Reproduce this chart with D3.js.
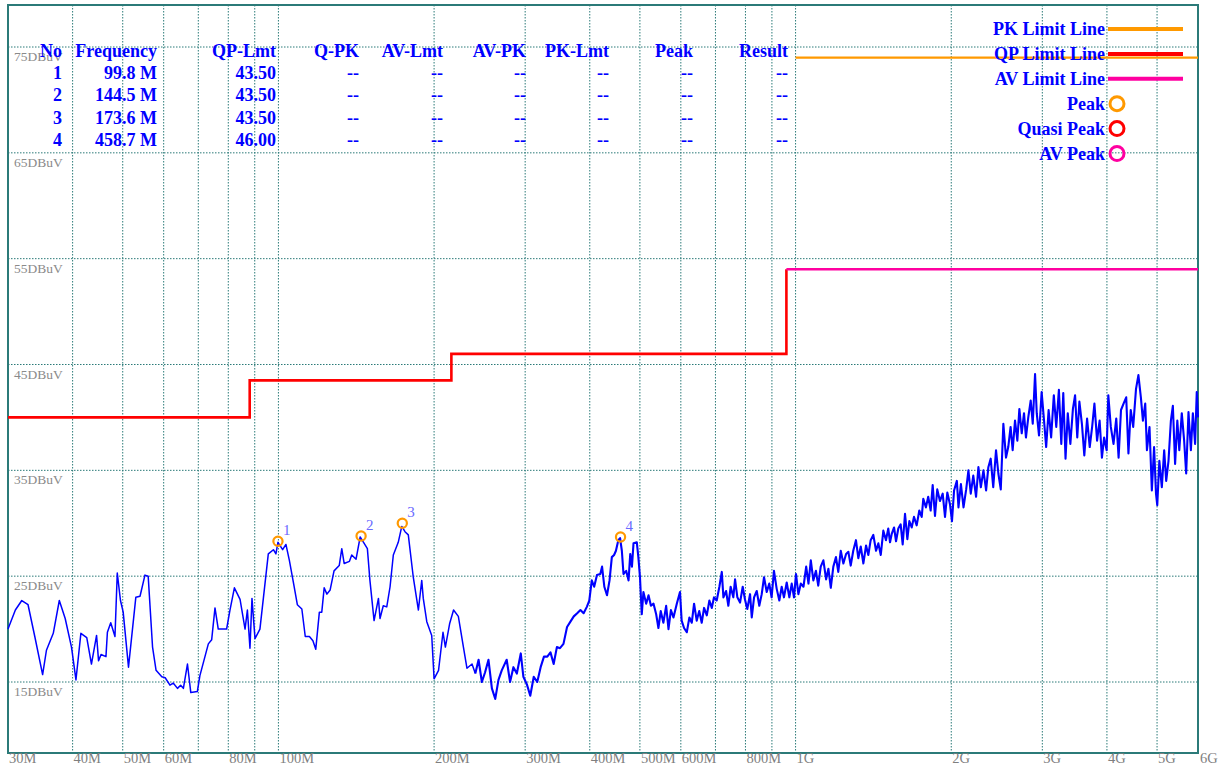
<!DOCTYPE html>
<html>
<head>
<meta charset="utf-8">
<script src="https://cdn.jsdelivr.net/npm/d3@7"></script>
<style>
  body { margin: 0; background: #fff; }
  svg { display: block; }
</style>
</head>
<body>
<svg id="chart"></svg>
<script>
// grid / ticks
const gridFreqs = [40, 50, 60, 70, 80, 90, 100, 200, 300, 400, 500, 600, 700, 800, 900, 1000, 2000, 3000, 4000, 5000];
const xTickVals = [30, 40, 50, 60, 80, 100, 200, 300, 400, 500, 600, 800, 1000, 2000, 3000, 4000, 5000, 6000];
const xTickText = ["30M", "40M", "50M", "60M", "80M", "100M", "200M", "300M", "400M", "500M", "600M", "800M", "1G", "2G", "3G", "4G", "5G", "6G"];
const yTickVals = [15, 25, 35, 45, 55, 65, 75];

// limit lines (MHz, dBuV)
const qpFreq = [30, 88, 88, 216, 216, 960, 960];
const qpLevel = [40, 40, 43.5, 43.5, 46, 46, 54];
const avFreq = [960, 6000];
const avLevel = [54, 54];
const pkFreq = [1000, 6000];
const pkLevel = [74, 74];

// marked peaks
const markNo = [1, 2, 3, 4];
const markFreq = [99.8, 144.5, 173.6, 458.7];
const markLevel = [28.3, 28.8, 30.0, 28.7];
const markQpLmt = [43.50, 43.50, 43.50, 46.00];

// table header
const tableCols = ["No", "Frequency", "QP-Lmt", "Q-PK", "AV-Lmt", "AV-PK", "PK-Lmt", "Peak", "Result"];

// legend
const legendLabels = ["PK Limit Line", "QP Limit Line", "AV Limit Line", "Peak", "Quasi Peak", "AV Peak"];
const legendKind = ["line", "line", "line", "circle", "circle", "circle"];

// measured trace [MHz, dBuV]
const trace = [
[30.0,20.0],[31.0,21.8],[31.9,22.7],[32.8,22.3],[33.8,19.3],[35.0,15.7],[35.6,18.0],[36.7,19.6],[37.7,22.7],[38.7,21.0],
[39.8,18.3],[40.6,15.2],[41.5,19.6],[42.6,19.2],[43.5,16.7],[44.5,19.4],[44.9,17.0],[45.4,17.6],[46.4,17.4],[46.7,19.7],
[47.4,20.6],[48.3,19.3],[48.8,25.3],[49.5,22.7],[50.1,21.6],[51.3,16.4],[53.0,23.0],[54.0,23.1],[55.2,25.1],[56.0,25.0],
[57.1,18.3],[58.0,16.1],[59.5,15.5],[60.4,15.4],[61.7,14.7],[62.6,14.9],[63.8,14.4],[64.7,14.7],[65.5,14.4],[66.7,16.7],
[67.7,14.0],[69.7,14.1],[70.5,15.6],[73.2,18.6],[74.3,19.0],[75.4,22.0],[76.5,20.0],[79.4,20.0],[80.6,21.8],[82.2,23.9],
[84.3,22.8],[86.2,20.0],[87.1,21.8],[88.1,18.2],[88.9,22.9],[90.1,19.1],[92.1,20.0],[95.6,27.1],[97.8,27.5],[98.9,27.1],
[99.8,28.2],[101.9,27.5],[103.4,28.0],[105.0,26.5],
[107.0,24.3],[108.8,22.3],[111.0,21.9],[112.7,19.3],[114.8,19.3],[116.6,18.9],[118.1,18.1],[120.0,21.6],[121.3,21.6],[122.6,23.9],
[124.1,23.3],[125.9,23.7],[128.1,25.5],[131.1,26.0],[132.6,27.6],[134.0,26.2],[137.2,26.4],[138.6,27.0],[141.3,26.6],[143.9,28.7],
[146.5,28.1],[148.6,27.6],[150.3,24.6],[153.1,20.8],[156.1,22.9],[157.2,21.0],[159.5,22.2],[162.0,22.1],[164.4,24.0],[166.8,27.0],
[170.5,28.2],[173.2,29.7],[175.7,29.2],[178.3,28.9],[182.3,24.9],[186.5,21.8],[189.3,24.6],[190.6,22.9],[193.6,20.7],[197.9,19.4],
[200.0,15.3],[204.0,16.1],[208.1,19.7],[210.3,18.3],[214.3,20.5],[218.1,21.8],[222.8,21.2],[227.9,18.3],[231.5,16.3],[236.8,16.7],
[240.3,15.8],[243.8,17.1],[247.4,15.0],[250.9,15.9],[254.8,17.1],[258.7,14.4],[262.6,13.4],[266.4,15.2],[270.3,16.1],[276.3,17.1],
[280.5,15.0],[284.7,16.4],[289.1,15.8],[294.2,17.7],[297.6,15.5],[302.2,14.8],[306.9,13.7],[311.7,15.5],[316.6,15.0],[321.4,16.4],
[326.2,17.4],[331.1,17.4],[335.8,17.8],[340.6,16.7],[345.5,18.3],[350.3,18.2],[355.8,18.6],[361.5,20.2],[367.0,20.7],[372.5,21.2],
[378.2,21.5],[383.7,21.8],[389.2,21.5],[394.8,22.1],
[399.1,22.7],[403.6,24.6],[407.9,24.0],[413.0,25.1],[419.2,25.2],[422.5,25.9],[426.8,24.0],[431.9,23.2],[436.8,24.6],[441.3,26.8],
[445.7,27.0],[449.4,27.4],[454.2,28.4],[457.8,28.6],[461.4,27.4],[464.8,25.2],[470.5,25.5],[475.4,24.6],[479.0,27.1],[482.6,25.9],
[486.0,28.1],[493.2,28.2],[496.6,26.8],[500.2,24.9],[504.2,21.4],[507.9,23.5],[514.2,22.4],[519.6,23.2],[525.2,22.2],[531.3,22.4],
[537.6,21.4],[543.0,20.1],[548.6,21.7],[555.1,20.6],[562.0,22.2],[567.9,20.0],[574.0,21.8],[580.6,21.1],[589.3,22.4],[597.7,23.5],
[602.2,20.8],[608.6,20.1],[616.1,19.7],[623.3,21.1],[630.0,20.6],[636.4,22.4],[643.9,20.8],[651.2,21.7],[658.4,20.6],[665.4,22.0],
[673.5,21.3],[681.3,22.7],[688.6,22.0],[695.5,23.0],[703.9,22.7],[712.3,24.0],[720.0,25.4],[725.2,23.0],[733.9,23.6],[741.3,22.2],
[749.0,24.0],[757.9,23.0],[763.8,24.7],[771.7,23.0],[781.0,22.5],[790.3,24.0],[798.3,22.8],[806.6,21.9],[816.5,23.3],[822.8,21.1],
[831.3,23.0],[841.2,23.6],[850.8,22.2],[860.1,23.3],[869.0,24.9],[879.5,23.5],[889.5,24.3],[898.8,23.0],[908.3,25.5],[919.4,23.8],
[930.2,22.7],[940.1,24.0],[949.6,23.0],[961.3,24.4],[972.6,23.0],[983.0,24.3],[993.0,23.0],[1001.9,25.2],[1012.6,23.3],[1023.7,24.3],
[1035.8,24.0],[1048.4,25.9],[1059.1,24.3],[1070.2,26.5],[1082.3,24.6],[1094.9,25.5],[1106.2,24.1],[1118.5,25.9],[1131.8,26.5],[1145.7,24.7],
[1157.5,25.7],[1169.8,23.9],[1183.1,25.9],[1197.0,26.8],[1209.4,25.4],[1222.8,27.4],[1237.2,26.2],[1252.2,27.1],[1265.0,27.3],[1278.3,26.0],
[1292.8,27.4],[1308.4,28.4],[1322.3,26.7],[1336.7,27.8],[1352.4,26.2],[1368.7,27.9],[1382.5,27.0],[1397.0,28.4],[1413.5,28.9],[1430.9,27.4],
[1445.8,28.1],[1461.3,27.0],[1478.1,29.3],[1495.5,28.4],[1511.0,29.5],
[1522.8,28.2],[1534.5,29.0],[1550.4,29.6],[1564.1,28.3],[1580.0,29.5],[1596.6,29.9],[1611.0,28.0],[1627.9,30.9],[1644.9,28.5],[1659.6,30.2],
[1677.2,29.6],[1694.1,30.6],[1714.7,29.8],[1734.9,31.2],[1753.5,30.6],[1765.9,32.3],[1786.8,31.5],[1805.0,32.5],[1824.8,31.2],[1841.3,33.6],
[1860.3,30.7],[1879.3,33.2],[1901.7,32.1],[1925.2,32.8],[1945.2,30.6],[1965.2,32.9],[1988.7,31.8],[2006.5,30.2],[2025.2,33.1],[2050.5,34.0],
[2065.4,31.5],[2087.9,33.7],[2112.2,31.5],[2137.4,33.2],[2158.9,35.0],[2181.4,32.8],[2206.1,34.5],[2233.7,32.5],[2257.1,35.3],[2281.6,33.4],
[2308.2,35.0],[2335.7,33.1],[2359.2,35.3],[2383.7,36.1],[2411.1,33.4],[2441.1,36.9],[2466.7,34.7],[2493.3,33.2],[2522.2,39.4],[2552.2,36.2],
[2577.8,37.2],[2604.8,39.1],[2628.9,36.9],[2656.6,39.7],[2684.3,37.8],[2708.4,40.8],[2737.3,38.5],[2765.1,40.4],[2789.2,38.1],[2818.1,40.0],
[2849.0,41.6],[2874.8,39.4],[2904.5,44.1],[2926.5,40.4],[2956.1,38.3],[2991.0,42.4],[3023.1,39.7],[3052.0,37.2],[3085.3,40.7],[3120.0,38.1],
[3157.5,42.1],[3192.2,39.1],[3229.8,42.6],[3264.5,37.5],[3293.4,42.3],[3326.6,36.1],[3359.9,40.4],[3398.9,37.5],[3437.9,40.8],[3471.2,42.1],
[3505.0,38.1],[3538.3,41.5],[3578.3,39.4],[3616.7,36.4],[3661.7,39.9],[3705.0,37.2],[3745.0,39.1],[3783.3,41.3],[3828.3,37.8],[3871.7,39.7],
[3911.7,36.2],[3950.0,38.1],[3995.0,36.9],[4024.5,42.1],[4069.8,39.1],[4118.9,37.5],[4169.8,39.9],[4213.2,36.2],[4258.5,40.7],[4307.5,41.3],
[4358.5,41.9],[4401.9,36.6],[4447.2,40.7],[4496.2,39.1],[4553.0,42.7],[4601.7,44.0],[4652.5,41.9],[4694.9,39.7],[4743.6,41.3],[4779.7,36.9],
[4834.7,39.1],[4885.6,33.1],[4934.3,37.2],[4976.7,32.8],[5004.7,31.7],[5051.4,35.9],[5107.5,33.4],[5161.2,36.9],[5208.0,34.0],[5261.7,35.9],
[5317.8,39.7],[5364.5,41.1],[5418.3,35.6],[5472.0,39.7],[5520.5,36.9],[5582.1,40.4],[5641.0,37.8],[5692.3,34.7],[5751.3,40.5],[5812.8,36.9],
[5864.1,40.4],[5923.1,37.5],[5966.7,42.4],[6000.0,40.0]
];

// sweep above this frequency is dense and draws as a heavier band
const denseFrom = 240.3;

const W = 1227, H = 767;
const plotLeft = 8, plotRight = 1198, plotTop = 5, plotBottom = 753;
const teal = "#2b7a78";
const blue = "#0000ff";
const serif = "'Liberation Serif', 'Times New Roman', serif";

const svg = d3.select("#chart").attr("width", W).attr("height", H);

const x = d3.scaleLog().domain([30, 6000]).range([plotLeft, plotRight]);
const y = d3.scaleLinear().domain([15, 75]).range([682, 47]);

// grid
const grid = svg.append("g").attr("class", "grid");
grid.selectAll(".vgrid")
    .data(gridFreqs)
    .join("line")
    .attr("x1", d => x(d)).attr("x2", d => x(d))
    .attr("y1", plotTop).attr("y2", plotBottom)
    .attr("stroke", teal)
    .attr("stroke-width", 1)
    .attr("stroke-dasharray", "1.5,1.5");
grid.selectAll(".hgrid")
    .data(yTickVals)
    .join("line")
    .attr("x1", plotLeft).attr("x2", plotRight)
    .attr("y1", d => y(d)).attr("y2", d => y(d))
    .attr("stroke", teal)
    .attr("stroke-width", 1)
    .attr("stroke-dasharray", "1.5,1.5");

// frame
svg.append("rect")
    .attr("x", plotLeft).attr("y", plotTop)
    .attr("width", plotRight - plotLeft).attr("height", plotBottom - plotTop)
    .attr("fill", "none")
    .attr("stroke", teal)
    .attr("stroke-width", 2);

// axis labels
svg.append("g").selectAll("text")
    .data(xTickVals)
    .join("text")
    .attr("x", (d, i) => x(d) + (i === xTickVals.length - 1 ? 2 : 1))
    .attr("y", 763)
    .attr("font-family", serif)
    .attr("font-size", 14.5)
    .attr("fill", "#7f7f7f")
    .text((d, i) => xTickText[i]);

svg.append("g").selectAll("text")
    .data(yTickVals)
    .join("text")
    .attr("x", 14)
    .attr("y", d => y(d) + 14)
    .attr("font-family", serif)
    .attr("font-size", 13.5)
    .attr("fill", "#8a8a8a")
    .text(d => d + "DBuV");

// limit lines
const line = d3.line().x(d => x(d[0])).y(d => y(d[1]));
svg.append("path")
    .attr("d", line(qpFreq.map((f, i) => [f, qpLevel[i]])))
    .attr("fill", "none").attr("stroke", "#ff0000").attr("stroke-width", 2.6);
svg.append("path")
    .attr("d", line(avFreq.map((f, i) => [f, avLevel[i]])))
    .attr("fill", "none").attr("stroke", "#ff00a0").attr("stroke-width", 2.4);
svg.append("path")
    .attr("d", line(pkFreq.map((f, i) => [f, pkLevel[i]])))
    .attr("fill", "none").attr("stroke", "#ff9900").attr("stroke-width", 2.4);

// trace: sparse low band, dense upper band
svg.append("path")
    .attr("d", line(trace.filter(d => d[0] <= denseFrom)))
    .attr("fill", "none")
    .attr("stroke", blue)
    .attr("stroke-width", 1.5)
    .attr("stroke-linejoin", "round");
svg.append("path")
    .attr("d", line(trace.filter(d => d[0] >= denseFrom)))
    .attr("fill", "none")
    .attr("stroke", blue)
    .attr("stroke-width", 2.1)
    .attr("stroke-linejoin", "round");

// markers
const marks = svg.append("g").selectAll("g")
    .data(markFreq)
    .join("g");
marks.append("circle")
    .attr("cx", d => x(d))
    .attr("cy", (d, i) => y(markLevel[i]))
    .attr("r", 4.6)
    .attr("fill", "none")
    .attr("stroke", "#ff9900")
    .attr("stroke-width", 2.2);
marks.append("text")
    .attr("x", d => x(d) + 5)
    .attr("y", (d, i) => y(markLevel[i]) - 6)
    .attr("font-family", serif)
    .attr("font-size", 15)
    .attr("fill", "#6a6aff")
    .text((d, i) => markNo[i]);

// table
const colRight = [62, 157, 276, 359, 443, 526, 609, 693, 788];
const table = svg.append("g")
    .attr("font-family", serif)
    .attr("font-size", 18)
    .attr("font-weight", "bold")
    .attr("fill", blue)
    .attr("text-anchor", "end");
table.selectAll(".hdr")
    .data(tableCols)
    .join("text")
    .attr("x", (d, i) => colRight[i])
    .attr("y", 57)
    .text(d => d);
markNo.forEach((n, r) => {
    const cells = [String(n), markFreq[r].toFixed(1) + " M", markQpLmt[r].toFixed(2), "--", "--", "--", "--", "--", "--"];
    table.append("g").selectAll("text")
        .data(cells)
        .join("text")
        .attr("x", (d, i) => colRight[i])
        .attr("y", 79 + r * 22.4)
        .text(d => d);
});

// legend
const legColors = ["#ff9900", "#ff0000", "#ff00a0", "#ff9900", "#ff0000", "#ff00a0"];
const legend = svg.append("g").selectAll("g")
    .data(legendLabels)
    .join("g")
    .attr("transform", (d, i) => `translate(0, ${35 + i * 24.9})`);
legend.append("text")
    .attr("x", 1105)
    .attr("y", 0)
    .attr("text-anchor", "end")
    .attr("font-family", serif)
    .attr("font-size", 18)
    .attr("font-weight", "bold")
    .attr("fill", blue)
    .text(d => d);
legend.filter((d, i) => legendKind[i] === "line")
    .append("line")
    .attr("x1", 1108).attr("x2", 1183)
    .attr("y1", -6).attr("y2", -6)
    .attr("stroke", (d) => legColors[legendLabels.indexOf(d)])
    .attr("stroke-width", 4);
legend.filter((d, i) => legendKind[i] === "circle")
    .append("circle")
    .attr("cx", 1117).attr("cy", -6)
    .attr("r", 7)
    .attr("fill", "none")
    .attr("stroke", (d) => legColors[legendLabels.indexOf(d)])
    .attr("stroke-width", 3);
</script>
</body>
</html>
